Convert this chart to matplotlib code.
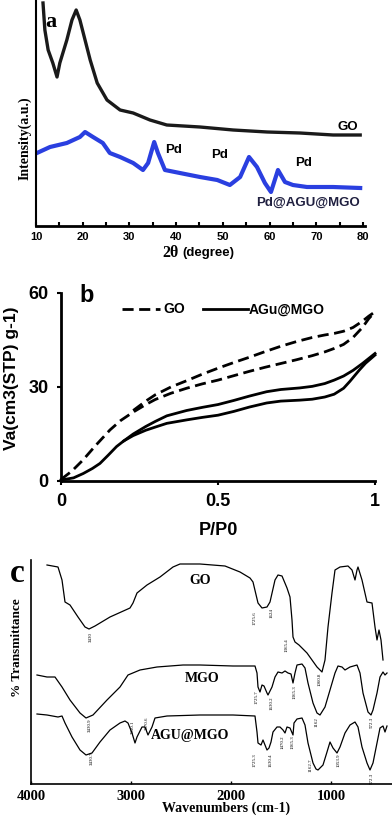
import numpy as np
import matplotlib
matplotlib.use("Agg")
import matplotlib.pyplot as plt

# ---------------------------------------------
# (a) XRD: 2theta vs intensity (a.u.)
# ---------------------------------------------
xrd_go_2t = [11.5, 11.9, 12.6, 13.6, 14.5, 15.1, 16.6, 17.7, 18.6, 19.4, 20.5, 21.6,
             23.1, 25.2, 28.0, 30.8, 34.4, 38.0, 45.1, 52.2, 59.5, 66.5, 73.6, 79.4]
xrd_go_i = [223, 196, 176, 163, 149, 163, 186, 206, 216, 206, 186, 166,
            143, 126, 116, 113, 106, 101, 99, 96, 94, 93, 91, 91]

xrd_pd_2t = [10.2, 13.0, 16.6, 19.4, 20.5, 22.2, 24.3, 25.8, 28.0, 30.8, 32.9, 34.0,
             35.3, 36.1, 37.6, 40.8, 45.1, 48.8, 51.5, 53.7, 55.6, 57.3, 59.0, 60.3,
             61.8, 63.3, 65.0, 68.0, 73.6, 79.4]
xrd_pd_i = [73, 79, 83, 89, 94, 89, 83, 73, 69, 63, 56, 63,
            84, 73, 56, 53, 49, 46, 41, 49, 69, 59, 43, 34,
            56, 44, 41, 39, 39, 38]

# ---------------------------------------------
# (b) N2 isotherms
# ---------------------------------------------
bet_go_ads_x = [0, 0.035, 0.07, 0.11, 0.156, 0.19, 0.23, 0.27, 0.3, 0.35, 0.4, 0.45, 0.5,
                0.55, 0.6, 0.65, 0.7, 0.75, 0.8, 0.84, 0.87, 0.9, 0.93, 0.96, 0.98, 1.0]
bet_go_ads_y = [0.5, 3.2, 6.7, 11.3, 16.3, 19.3, 22, 24.4, 26, 28, 29.6, 31, 32.2,
                33.6, 35, 36.3, 37.5, 38.7, 40, 41.2, 42.3, 43.6, 45.8, 49, 51.8, 54]
bet_go_des_x = [0.23, 0.27, 0.3, 0.35, 0.4, 0.45, 0.5, 0.55, 0.6, 0.65, 0.7, 0.75, 0.8,
                0.84, 0.87, 0.9, 0.93, 0.96, 0.98, 1.0]
bet_go_des_y = [22.5, 25.5, 27.5, 30, 32, 34.1, 36, 37.8, 39.5, 41.3, 43, 44.5, 45.8,
                46.6, 47.1, 47.8, 49, 51, 52.6, 54]

bet_agu_ads_x = [0, 0.04, 0.071, 0.1, 0.124, 0.15, 0.177, 0.2, 0.23, 0.27, 0.3, 0.337, 0.4,
                 0.45, 0.5, 0.55, 0.6, 0.655, 0.7, 0.76, 0.8, 0.84, 0.87, 0.9, 0.92, 0.95,
                 0.97, 1.0]
bet_agu_ads_y = [0.3, 1.0, 2.4, 4, 5.6, 8.2, 11, 12.8, 14.5, 16.2, 17.2, 18.4, 19.5,
                 20.3, 21.0, 22.2, 23.6, 24.9, 25.5, 25.8, 26.1, 26.8, 27.7, 29.6, 31.8, 35.4,
                 37.6, 40.2]
bet_agu_des_x = [0.2, 0.23, 0.27, 0.3, 0.337, 0.4, 0.45, 0.5, 0.55, 0.6, 0.655, 0.7, 0.76,
                 0.8, 0.84, 0.87, 0.9, 0.93, 0.96, 1.0]
bet_agu_des_y = [12.8, 15.0, 17.4, 19.0, 20.8, 22.5, 23.5, 24.4, 25.7, 27.1, 28.5, 29.2, 29.7,
                 30.2, 31.1, 32.2, 33.5, 35.3, 37.5, 40.7]

# ---------------------------------------------
# (c) FTIR
# ---------------------------------------------
ir_go_wn = [3840, 3730, 3690, 3660, 3610, 3530, 3460, 3420, 3360, 3210, 3010, 2980, 2940,
            2840, 2710, 2580, 2510, 2310, 2060, 1910, 1810, 1780, 1730, 1690, 1640, 1610,
            1560, 1530, 1490, 1440, 1410, 1390, 1380, 1360, 1320, 1240, 1140, 1090, 1060,
            1030, 990, 960, 910, 830, 790, 760, 740, 730, 690, 640, 590, 560, 540, 520, 500, 480]
ir_go_t = [219, 217, 204, 182, 179, 167, 157, 155, 158, 167, 176, 181, 191,
           199, 207, 217, 220, 220, 218, 212, 206, 202, 181, 176, 177, 182,
           204, 209, 208, 196, 187, 164, 147, 142, 139, 131, 117, 112, 124,
           157, 191, 214, 217, 218, 214, 204, 214, 217, 204, 182, 181, 157, 144, 154, 144, 124]

ir_mgo_wn = [3940, 3840, 3760, 3690, 3610, 3510, 3450, 3380, 3240, 3110, 3030, 2910, 2740,
             2480, 2310, 1980, 1760, 1740, 1730, 1710, 1690, 1670, 1640, 1630, 1590, 1560,
             1530, 1490, 1460, 1430, 1400, 1380, 1360, 1340, 1290, 1260, 1230, 1180, 1140,
             1110, 1060, 1010, 960, 930, 890, 860, 810, 740, 710, 680, 630, 600, 580, 540,
             510, 480, 460, 440]
ir_mgo_t = [109, 107, 107, 97, 84, 71, 66, 69, 84, 97, 109, 114, 117,
            119, 119, 118, 118, 111, 97, 92, 99, 98, 91, 89, 97, 107,
            112, 111, 113, 111, 110, 101, 111, 119, 120, 116, 101, 81, 71,
            69, 77, 94, 111, 118, 117, 114, 117, 119, 111, 91, 72, 69, 74, 91,
            107, 112, 109, 111]

ir_agu_wn = [3940, 3840, 3730, 3690, 3660, 3590, 3510, 3450, 3390, 3310, 3210, 3110, 3060,
             3030, 2990, 2960, 2940, 2890, 2860, 2830, 2790, 2760, 2640, 2310, 1980, 1760,
             1740, 1730, 1700, 1680, 1660, 1640, 1620, 1600, 1580, 1540, 1510, 1480, 1460,
             1440, 1410, 1380, 1370, 1340, 1290, 1260, 1230, 1180, 1150, 1130, 1080, 1040,
             1010, 980, 940, 910, 860, 810, 760, 730, 690, 640, 610, 580, 540, 510, 480, 460, 440]
ir_agu_t = [70, 69, 67, 68, 61, 47, 34, 29, 31, 42, 54, 61, 63,
            61, 51, 41, 47, 57, 57, 49, 57, 66, 68, 69, 69, 68,
            52, 41, 39, 44, 39, 34, 36, 42, 52, 57, 57, 54, 51,
            57, 56, 49, 61, 65, 66, 59, 41, 21, 15, 14, 19, 32,
            42, 36, 31, 37, 51, 59, 62, 57, 37, 21, 14, 21, 41, 56, 58, 52, 58]

# peak labels: text, wavenumber, transmittance
ir_peaks = [("3430", 3400, 147), ("1725.6", 1760, 166), ("1624", 1590, 171),
            ("1365.4", 1440, 139), ("1060.8", 1110, 105),
            ("3430.9", 3410, 59), ("1725.7", 1740, 87), ("1630.2", 1590, 81),
            ("1365.3", 1360, 92), ("1162", 1140, 62), ("572.3", 590, 62),
            ("3430.7", 3390, 26), ("2950.1", 2980, 57), ("2870.6", 2840, 61),
            ("1725.3", 1760, 24), ("1630.4", 1600, 24), ("1470.2", 1480, 42),
            ("1365.3", 1380, 42), ("1162.7", 1200, 19), ("1053.9", 920, 24),
            ("572.3", 590, 6)]

SERIF = "Liberation Serif"
SANS = "Liberation Sans"

W, H = 392, 818
fig = plt.figure(figsize=(W / 100, H / 100), dpi=100)

def box(l, r, t, b):
    return [l / W, 1 - b / H, (r - l) / W, (b - t) / H]

# ---------------- panel a ----------------
ax1 = fig.add_axes(box(36, 365, 0, 226))
ax1.plot(xrd_go_2t, xrd_go_i, color="#1a1a1a", lw=2.4)
ax1.plot(xrd_pd_2t, xrd_pd_i, color="#2a3fe0", lw=3.0)
ax1.set_xlim(10, 80.43)
ax1.set_ylim(0, 226)
ax1.set_yticks([])
ax1.set_xticks(range(10, 81, 10))
ax1.set_xticks(range(15, 80, 10), minor=True)
ax1.tick_params(axis="x", which="both", direction="in", length=3, width=1.5, pad=4)
for lab in ax1.get_xticklabels():
    lab.set_fontfamily(SANS)
    lab.set_fontweight("bold")
    lab.set_fontsize(8)
for s in ["top", "right"]:
    ax1.spines[s].set_visible(False)
ax1.spines["left"].set_linewidth(1.5)
ax1.spines["bottom"].set_linewidth(2)
ax1.text(13.2, 204, "a", family=SERIF, weight="bold", fontsize=16, ha="center", va="center")
ax1.text(39.5, 76, "Pd", family=SANS, weight="bold", fontsize=9.5, ha="center", va="center")
ax1.text(49.3, 71, "Pd", family=SANS, weight="bold", fontsize=9.5, ha="center", va="center")
ax1.text(67.3, 63, "Pd", family=SANS, weight="bold", fontsize=9.5, ha="center", va="center")
ax1.text(76.8, 99, "GO", family=SANS, weight="bold", fontsize=9.5, ha="center", va="center")
ax1.text(68.2, 23, "Pd@AGU@MGO", family=SANS, weight="bold", fontsize=9.5,
         ha="center", va="center", color="#202040")
fig.text(25 / W, 1 - 138 / H, "Intensity(a.u.)", family=SERIF, weight="bold",
         fontsize=10, rotation=90, ha="center", va="center")
fig.text(179 / W, 1 - 253 / H, "2θ", family=SERIF, weight="bold", fontsize=11.5,
         ha="right", va="center")
fig.text(182 / W, 1 - 253 / H, "(degree)", family=SANS, weight="bold", fontsize=9.5,
         ha="left", va="center")

# ---------------- panel b ----------------
ax2 = fig.add_axes(box(61, 375, 293, 481))
ax2.plot(bet_go_ads_x, bet_go_ads_y, color="black", lw=2, ls=(0, (4, 2)), clip_on=False)
ax2.plot(bet_go_des_x, bet_go_des_y, color="black", lw=2, ls=(0, (4, 2)), clip_on=False)
ax2.plot(bet_agu_ads_x, bet_agu_ads_y, color="black", lw=2, clip_on=False)
ax2.plot(bet_agu_des_x, bet_agu_des_y, color="black", lw=2, clip_on=False)
ax2.set_xlim(0, 1)
ax2.set_ylim(0, 60)
ax2.set_xticks([0, 0.5, 1])
ax2.set_xticklabels(["0", "0.5", "1"])
ax2.set_yticks([0, 30, 60])
ax2.tick_params(axis="both", direction="out", length=3, width=1.5, labelsize=13, pad=6)
for lab in ax2.get_xticklabels() + ax2.get_yticklabels():
    lab.set_fontfamily(SANS)
    lab.set_fontweight("bold")
for s in ["top", "right"]:
    ax2.spines[s].set_visible(False)
ax2.spines["left"].set_linewidth(2)
ax2.spines["bottom"].set_linewidth(2)
ax2.set_xlabel("P/P0", family=SANS, weight="bold", fontsize=13, labelpad=8)
fig.text(12 / W, 1 - 378 / H, "Va(cm3(STP) g-1)", family=SANS, weight="bold",
         fontsize=12.5, rotation=90, ha="center", va="center")
fig.text(87 / W, 1 - 296 / H, "b", family=SANS, weight="bold", fontsize=17,
         ha="center", va="center")
ax2.plot([0.195, 0.315], [54.8, 54.8], color="black", lw=2, ls=(0, (4, 2)))
ax2.text(0.325, 54.8, "GO", family=SANS, weight="bold", fontsize=10, va="center")
ax2.plot([0.452, 0.595], [54.8, 54.8], color="black", lw=2)
ax2.text(0.597, 54.8, "AGu@MGO", family=SANS, weight="bold", fontsize=10, va="center")

# ---------------- panel c ----------------
ax3 = fig.add_axes(box(31, 392, 560, 784))
ax3.plot(ir_go_wn, ir_go_t, color="black", lw=0.9)
ax3.plot(ir_mgo_wn, ir_mgo_t, color="black", lw=0.9)
ax3.plot(ir_agu_wn, ir_agu_t, color="black", lw=0.9)
for txt, wn, t in ir_peaks:
    ax3.text(wn, t, txt, family=SERIF, fontsize=3.5, rotation=90, ha="center", va="center")
ax3.set_xlim(4000, 390)
ax3.set_ylim(0, 224)
ax3.set_yticks([])
ax3.set_xticks([4000, 3000, 2000, 1000])
ax3.tick_params(axis="x", direction="in", length=2, width=1, labelsize=10.5, pad=4)
for lab in ax3.get_xticklabels():
    lab.set_fontfamily(SERIF)
    lab.set_fontweight("bold")
for s in ["top", "right"]:
    ax3.spines[s].set_visible(False)
ax3.spines["left"].set_linewidth(1.2)
ax3.spines["bottom"].set_linewidth(1.2)
ax3.text(2310, 204, "GO", family=SERIF, weight="bold", fontsize=10, ha="center", va="center")
ax3.text(2290, 106, "MGO", family=SERIF, weight="bold", fontsize=10, ha="center", va="center")
ax3.text(2410, 49, "AGU@MGO", family=SERIF, weight="bold", fontsize=10, ha="center", va="center")
fig.text(226 / W, 1 - 808 / H, "Wavenumbers (cm-1)", family=SERIF, weight="bold",
         fontsize=10, ha="center", va="center")
fig.text(17 / W, 1 - 648 / H, "% Transmittance", family=SERIF, weight="bold",
         fontsize=9.5, rotation=90, ha="center", va="center")
fig.text(17 / W, 1 - 573 / H, "c", family=SERIF, weight="bold", fontsize=24,
         ha="center", va="center")

fig.savefig("out.png", dpi=100)
